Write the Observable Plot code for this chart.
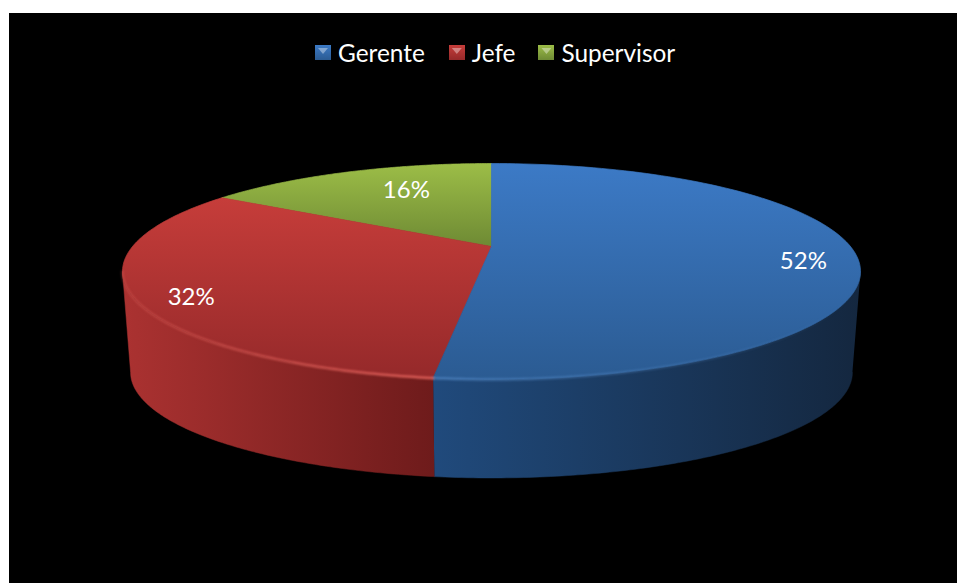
<!DOCTYPE html>
<html lang="es">
<head>
<meta charset="utf-8">
<title>Gerente, Jefe, Supervisor</title>
<script src="https://cdn.jsdelivr.net/npm/d3@7"></script>
<script src="https://cdn.jsdelivr.net/npm/@observablehq/plot@0.6"></script>
<style>
  html, body { margin: 0; background: #fff; overflow: hidden; }
  body { padding: 13px 0 0 9px; width: 948px; height: 570px; }
  #chart { width: 948px; height: 570px; background: #000; font-family: Lato, "Open Sans", sans-serif; }
  #legend { height: 70px; box-sizing: border-box; padding: 9px 0 0 306px; display: flex; align-items: center;
            color: #fff; font-size: 24.4px; line-height: 34px; }
  #legend .item { display: flex; align-items: center; }
  #legend .swatch { position: relative; width: 16px; height: 15px; margin-right: 7px; overflow: hidden; }
  #legend .swatch::after { content: ""; position: absolute; left: 3px; top: 3px; width: 10px; height: 6px;
            background: rgba(255,255,255,.38); clip-path: polygon(0 0, 100% 0, 50% 100%); }
  svg { display: block; }
</style>
</head>
<body>
<div id="chart">
  <div id="legend"></div>
</div>
<script>
// Puestos y su participación
const categories = ["Gerente", "Jefe", "Supervisor"];
const shares = [52, 32, 16];

// Colores de cada porción
const topColors = [["#3c7ac6", "#2b5b92"], ["#c63d3a", "#95292a"], ["#9cbd47", "#6e8a34"]];
const wallColors = [["#204a7c", "#14273f"], ["#ab3231", "#6e1b1b"], ["#6e8a34", "#4c6024"]];
const rimColors = ["#5c93d2", "#e0605a", "#b5d060"];

// Posición de cada etiqueta sobre el disco: vuelta y radio
const labelTurns = [0.2767, 0.6645, 0.935];
const labelRadii = [0.852, 0.873, 0.684];

// Perspectiva del disco y grosor del cilindro, en unidades de la escena
const tilt = 0.2315;
const baseScale = 0.978;
const baseDrop = 0.992;

// Proyecta un punto del disco (ángulo desde arriba, en sentido horario) a la escena
function project(theta, radius = 1, scale = 1, drop = 0) {
  const u = radius * Math.sin(theta), v = radius * Math.cos(theta), w = 1 + tilt * v;
  return {x: scale * u / w, y: scale * v / w - drop};
}

// Ángulos acumulados a partir de los porcentajes
const total = d3.sum(shares);
let running = 0;
const slices = categories.map((name, i) => {
  const start = running / total * 2 * Math.PI;
  running += shares[i];
  return {name, i, start, end: running / total * 2 * Math.PI};
});

const arc = (a, b) => d3.range(0, 121).map(k => a + (b - a) * k / 120);

// Cara superior: centro, arco y regreso al centro
const topFace = s => [project(0, 0), ...arc(s.start, s.end).map(t => project(t)), project(0, 0)];

// Pared visible: solo la parte del borde que mira al frente
const frontStart = Math.acos(-tilt);
const frontEnd = 2 * Math.PI - frontStart;
function wallFace(s) {
  const a = Math.max(s.start, frontStart), b = Math.min(s.end, frontEnd);
  if (a >= b) return null;
  return [...arc(a, b).map(t => project(t)), ...arc(b, a).map(t => project(t, 1, baseScale, baseDrop))];
}
function rimLine(s) {
  const a = Math.max(s.start, frontStart), b = Math.min(s.end, frontEnd);
  return a < b ? arc(a, b).map(t => project(t)) : null;
}

const labels = slices.map(s => ({
  ...project(labelTurns[s.i] * 2 * Math.PI, labelRadii[s.i]),
  text: shares[s.i] + "%"
}));

// Definiciones de degradados
const stops = (id, horizontal, from, to, fromOpacity = 1, toOpacity = 1) =>
  `<linearGradient id="${id}" x1="0" y1="0" x2="${horizontal ? 1 : 0}" y2="${horizontal ? 0 : 1}">
     <stop offset="0" stop-color="${from}" stop-opacity="${fromOpacity}"/>
     <stop offset="1" stop-color="${to}" stop-opacity="${toOpacity}"/>
   </linearGradient>`;
const gradients = () => {
  const g = document.createElementNS("http://www.w3.org/2000/svg", "defs");
  g.innerHTML = slices.map(s =>
    stops(`top${s.i}`, false, topColors[s.i][0], topColors[s.i][1]) +
    stops(`wall${s.i}`, true, wallColors[s.i][0], wallColors[s.i][1])
  ).join("") +
    stops("rim0", true, rimColors[0], rimColors[0], 0.6, 0) +
    stops("rim1", true, rimColors[1], rimColors[1], 0.35, 0.95);
  return g;
};

const walls = slices.filter(wallFace).map(s =>
  Plot.line(wallFace(s), {x: "x", y: "y", fill: `url(#wall${s.i})`, stroke: `url(#wall${s.i})`, strokeWidth: 0.5}));
// El trazo fino del mismo degradado cierra las juntas entre porciones
const tops = slices.slice().reverse().map(s =>
  Plot.line(topFace(s), {x: "x", y: "y", fill: `url(#top${s.i})`, stroke: `url(#top${s.i})`, strokeWidth: 0.7}));
const rims = slices.filter(rimLine).map(s =>
  Plot.line(rimLine(s), {x: "x", y: "y", stroke: `url(#rim${s.i})`, strokeWidth: 2.5, imageFilter: "blur(0.8px)"}));

const plot = Plot.plot({
  width: 948,
  height: 500,
  margin: 0,
  style: {background: "transparent", fontFamily: "Lato, 'Open Sans', sans-serif"},
  x: {domain: [-1, 1], range: [123, 841], axis: null},
  y: {domain: [-1, 1], range: [265.2, 60.8], axis: null},
  marks: [
    gradients,
    ...walls,
    ...tops,
    ...rims,
    Plot.text(labels, {x: "x", y: "y", text: "text", fill: "#fff", fontSize: 24})
  ]
});
document.getElementById("chart").append(plot);

// Leyenda sobre el gráfico
const legend = document.getElementById("legend");
const itemGaps = [24, 23, 0];
categories.forEach((name, i) => {
  const item = document.createElement("div");
  item.className = "item";
  item.style.marginRight = itemGaps[i] + "px";
  const swatch = document.createElement("span");
  swatch.className = "swatch";
  swatch.style.background = `linear-gradient(${topColors[i][0]}, ${topColors[i][1]})`;
  item.append(swatch, name);
  legend.append(item);
});
</script>
</body>
</html>
